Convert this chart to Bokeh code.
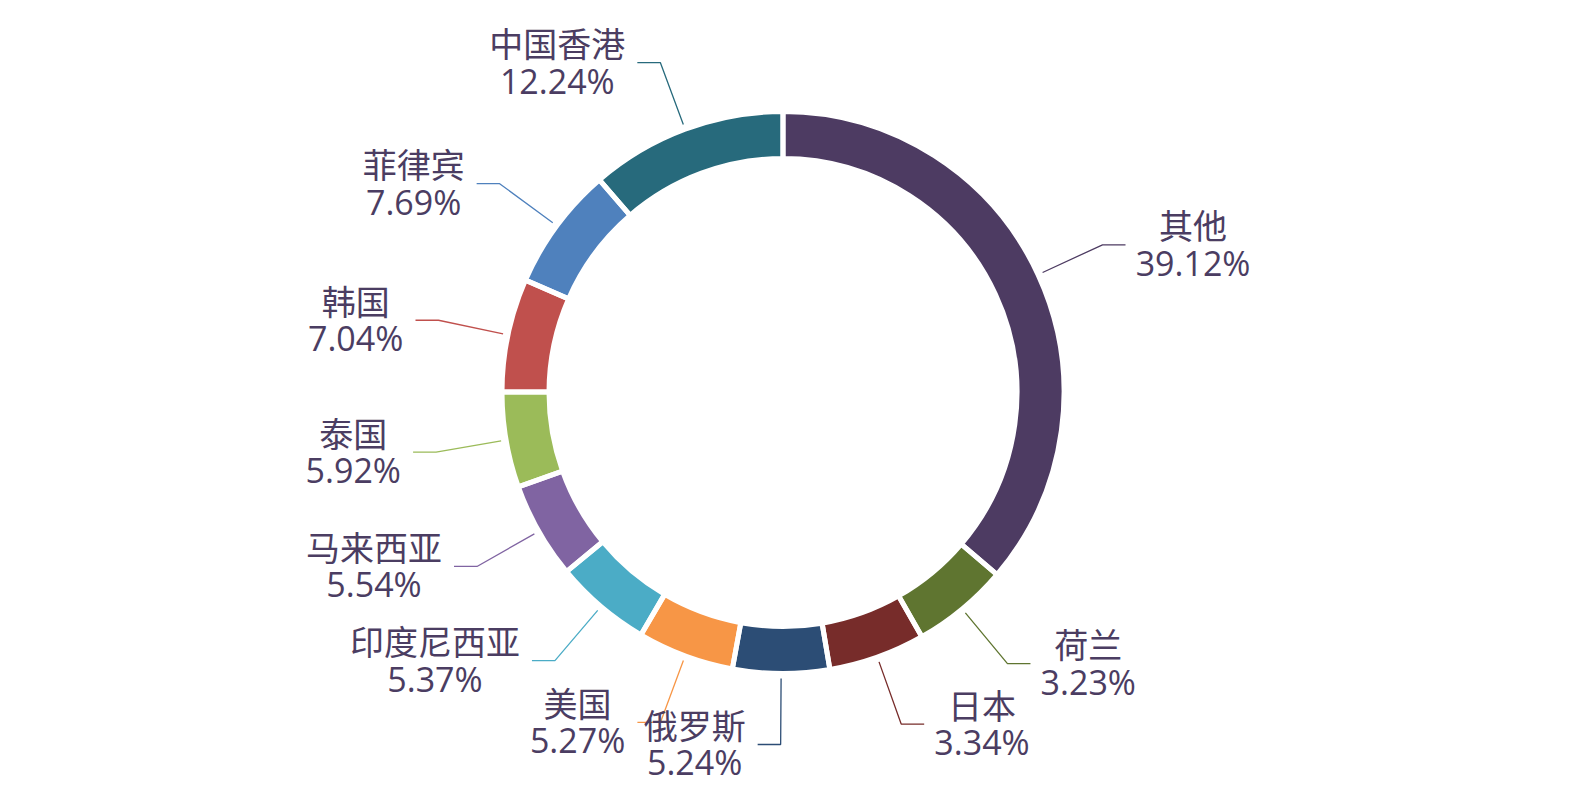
import math
from bokeh.plotting import figure
from bokeh.models import ColumnDataSource, Range1d
from bokeh.core.properties import value
from bokeh.embed import file_html
from bokeh.resources import INLINE

# ---- data ----
names = ["其他", "荷兰", "日本", "俄罗斯", "美国", "印度尼西亚", "马来西亚", "泰国", "韩国", "菲律宾", "中国香港"]
shares = [39.12, 3.23, 3.34, 5.24, 5.27, 5.37, 5.54, 5.92, 7.04, 7.69, 12.24]
colors = ["#4d3b62", "#5f7530", "#772c2a", "#2c4d75", "#f79646", "#4bacc6",
          "#8064a2", "#9bbb59", "#c0504d", "#4f81bd", "#276a7c"]

# ---- layout constants ----
W, H = 1570, 787
CX, CY = 782.5, H - 392.0
R_OUT, R_IN = 281.0, 234.0
MIN_ANGLE = 20.0           # degrees (minimum slice angle)
LINE_START = 286.0
LEN1_R = 352.0
LEN2 = 23.0
FS = 34
LINE_GAP = 18.5
TEXT_COLOR = "#4b3d62"

# slice angles (clockwise from 12 o'clock), with minimum-angle rule
total = sum(shares)
ang = [v * 360.0 / total for v in shares]
rest = 360.0
larger = 0.0
is_min = []
for a, v in zip(ang, shares):
    if a < MIN_ANGLE:
        is_min.append(True)
        rest -= MIN_ANGLE
    else:
        is_min.append(False)
        larger += v
unit = rest / larger
ang = [MIN_ANGLE if m else v * unit for v, m in zip(shares, is_min)]

starts, ends, mids = [], [], []
cur = 0.0
for a in ang:
    starts.append(cur)
    ends.append(cur + a)
    mids.append(cur + a / 2)
    cur += a

def to_bokeh(deg_cw_from_top):
    return math.radians(90.0 - deg_cw_from_top)

src = ColumnDataSource(dict(
    start=[to_bokeh(e) for e in ends],
    end=[to_bokeh(s) for s in starts],
    color=colors,
))

p = figure(width=W, height=H, x_range=Range1d(0, W), y_range=Range1d(0, H),
           output_backend="svg", toolbar_location=None, min_border=0,
           x_axis_location=None, y_axis_location=None)
p.grid.visible = False
p.outline_line_color = None
p.background_fill_color = "white"
p.border_fill_color = "white"

p.annular_wedge(x=CX, y=CY, inner_radius=R_IN, outer_radius=R_OUT,
                start_angle="start", end_angle="end", fill_color="color",
                line_color=None, source=src)
p.annular_wedge(x=CX, y=CY, inner_radius=R_IN, outer_radius=R_OUT,
                start_angle="start", end_angle="end", fill_alpha=0,
                line_color="white", line_width=5, source=src)

# label lines and texts
xs, ys = [], []
name_x, name_y, pct_x, pct_y, pct_txt = [], [], [], [], []

def pct_width(s):
    w = 0.0
    for ch in s:
        if ch.isdigit():
            w += 0.572
        elif ch == ".":
            w += 0.266
        elif ch == "%":
            w += 0.831
    return w * FS

for nm, v, m in zip(names, shares, mids):
    t = math.radians(m)
    dx, dy = math.sin(t), math.cos(t)
    x1, y1 = CX + LINE_START * dx, CY + LINE_START * dy
    x2, y2 = CX + LEN1_R * dx, CY + LEN1_R * dy
    right = dx >= 0
    x3 = x2 + LEN2 if right else x2 - LEN2
    y3 = y2
    xs.append([x1, x2, x3])
    ys.append([y1, y2, y3])
    s = "{:.2f}%".format(v)
    bw = max(len(nm) * FS, pct_width(s))
    if right:
        bc = x3 + 10 + bw / 2
    else:
        bc = x3 - 12 - bw / 2
    name_x.append(bc); name_y.append(y3 + LINE_GAP + 1.5)
    pct_x.append(bc); pct_y.append(y3 - LINE_GAP + 0.5)
    pct_txt.append(s)

p.multi_line(xs=xs, ys=ys, line_color=colors, line_width=1.3)

p.text(x=name_x, y=name_y, text=names, text_font=value("Noto Sans CJK SC"),
       text_font_size="%dpx" % FS, text_color=TEXT_COLOR,
       text_align="center", text_baseline="middle")
p.text(x=pct_x, y=pct_y, text=pct_txt, text_font=value("Open Sans"),
       text_font_size="%dpx" % FS, text_color=TEXT_COLOR,
       text_align="center", text_baseline="middle")

open("out.html", "w").write(file_html(p, INLINE))
